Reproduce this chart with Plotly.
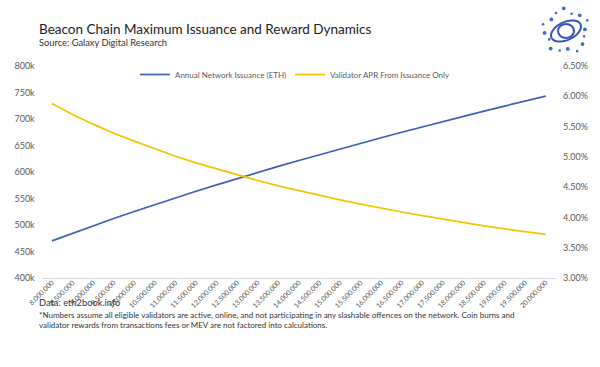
import math
import plotly.graph_objects as go

# ---- data ----
staked = ["8,000,000", "8,500,000", "9,000,000", "9,500,000", "10,000,000",
          "10,500,000", "11,000,000", "11,500,000", "12,000,000", "12,500,000",
          "13,000,000", "13,500,000", "14,000,000", "14,500,000", "15,000,000",
          "15,500,000", "16,000,000", "16,500,000", "17,000,000", "17,500,000",
          "18,000,000", "18,500,000", "19,000,000", "19,500,000", "20,000,000"]
issuance = [470000, 484500, 498600, 512200, 525500, 538500, 551200, 563600,
            575700, 587600, 599200, 610600, 621800, 632800, 643600, 654300,
            664700, 675000, 685200, 695200, 705000, 714800, 724400, 733800,
            743200]
apr = [5.88, 5.70, 5.54, 5.39, 5.26, 5.13, 5.01, 4.90, 4.80, 4.70, 4.61,
       4.52, 4.44, 4.36, 4.29, 4.22, 4.15, 4.09, 4.03, 3.97, 3.92, 3.86,
       3.81, 3.76, 3.72]
left_ticks = [400000, 450000, 500000, 550000, 600000, 650000, 700000, 750000, 800000]
left_tick_labels = ["400k", "450k", "500k", "550k", "600k", "650k", "700k", "750k", "800k"]
right_ticks = [3.0, 3.5, 4.0, 4.5, 5.0, 5.5, 6.0, 6.5]
right_tick_labels = ["3.00%", "3.50%", "4.00%", "4.50%", "5.00%", "5.50%", "6.00%", "6.50%"]

W, H = 600, 367
FONT = "Lato, 'Open Sans', sans-serif"
GREY = "#595959"
BLUE = "#3d5fb8"
GOLD = "#f5c400"

fig = go.Figure()
fig.add_trace(go.Scatter(x=staked, y=issuance, mode="lines",
                         name="Annual Network Issuance (ETH)", legend="legend",
                         line=dict(color=BLUE, width=1.7)))
fig.add_trace(go.Scatter(x=staked, y=apr, mode="lines", yaxis="y2",
                         name="Validator APR From Issuance Only", legend="legend2",
                         line=dict(color=GOLD, width=1.7)))

x0, x1 = 41.7 / W, 556 / W
yb, yt = 1 - 278 / H, 1 - 66 / H

leg_common = dict(orientation="h", xanchor="left", yanchor="top",
                  font=dict(size=8, color=GREY), bgcolor="rgba(0,0,0,0)")

fig.update_layout(
    width=W, height=H,
    margin=dict(l=0, r=0, t=0, b=0, autoexpand=False),
    paper_bgcolor="white", plot_bgcolor="white",
    font=dict(family=FONT, color=GREY, size=9),
    xaxis=dict(domain=[x0, x1], type="category", range=[-0.5, 24.5],
               tickangle=-45, tickfont=dict(size=7, color=GREY),
               ticklabelstandoff=-3,
               showgrid=False, showline=True, linecolor="#d9d9d9",
               linewidth=1, ticks="", zeroline=False, automargin=False),
    yaxis=dict(domain=[yb, yt], range=[400000, 800000],
               tickvals=left_ticks, ticktext=left_tick_labels,
               showgrid=False, zeroline=False, showline=False, automargin=False,
               tickfont=dict(size=9, color=GREY), ticklabelstandoff=6),
    yaxis2=dict(overlaying="y", side="right", range=[3.0, 6.5],
                tickvals=right_ticks, ticktext=right_tick_labels,
                showgrid=False, zeroline=False, showline=False, automargin=False,
                tickfont=dict(size=9, color=GREY), ticklabelstandoff=6),
    legend=dict(x=135 / W, y=1 - 60 / H, **leg_common),
    legend2=dict(x=290 / W, y=1 - 60 / H, **leg_common),
    showlegend=True,
)

annotations = [
    dict(text="Beacon Chain Maximum Issuance and Reward Dynamics",
         x=37 / W, y=1 - 19 / H, font=dict(size=13.5, color="#222222")),
    dict(text="Source: Galaxy Digital Research",
         x=37 / W, y=1 - 35 / H, font=dict(size=9.3, color="#333333")),
    dict(text="Data: eth2book.info",
         x=37 / W, y=1 - 295 / H, font=dict(size=9.3, color="#333333")),
    dict(text="*Numbers assume all eligible validators are active, online, and not participating in any slashable offences on the network. Coin burns and<br>"
              "validator rewards from transactions fees or MEV are not factored into calculations.",
         x=37 / W, y=1 - 308 / H, font=dict(size=8, color="#333333")),
]
for a in annotations:
    fig.add_annotation(xref="paper", yref="paper", xanchor="left", yanchor="top",
                       showarrow=False, align="left", **a)

# ---- decorative logo (top right) ----
cx, cy = 566, 31
shapes = []
pts = []
ang = math.radians(-25)
for k in range(41):
    t = 2 * math.pi * k / 40
    ex, ey = 16 * math.cos(t), 9 * math.sin(t)
    px = cx + ex * math.cos(ang) - ey * math.sin(ang)
    py = cy + ex * math.sin(ang) + ey * math.cos(ang)
    pts.append((px / W, 1 - py / H))
path = "M " + " L ".join(f"{p[0]:.5f},{p[1]:.5f}" for p in pts) + " Z"
shapes.append(dict(type="path", xref="paper", yref="paper", path=path,
                   line=dict(color="#3556b8", width=2)))
shapes.append(dict(type="circle", xref="paper", yref="paper",
                   x0=(cx - 8) / W, x1=(cx + 8) / W,
                   y0=1 - (cy + 7) / H, y1=1 - (cy - 7) / H,
                   line=dict(color="#3556b8", width=2)))
for k in range(16):
    t = 2 * math.pi * k / 16 + 0.3
    r = 19 + (k % 3) * 2.5
    dx, dy = cx + r * math.cos(t), cy + r * 0.95 * math.sin(t)
    s = 1.3 + (k % 2) * 0.6
    shapes.append(dict(type="circle", xref="paper", yref="paper",
                       x0=(dx - s) / W, x1=(dx + s) / W,
                       y0=1 - (dy + s) / H, y1=1 - (dy - s) / H,
                       fillcolor="#3d6ad0", line=dict(width=0)))
fig.update_layout(shapes=shapes)

fig.write_html("out.html", config={"displayModeBar": False},
               post_script="document.body.style.margin='0';document.body.style.overflow='hidden';")
